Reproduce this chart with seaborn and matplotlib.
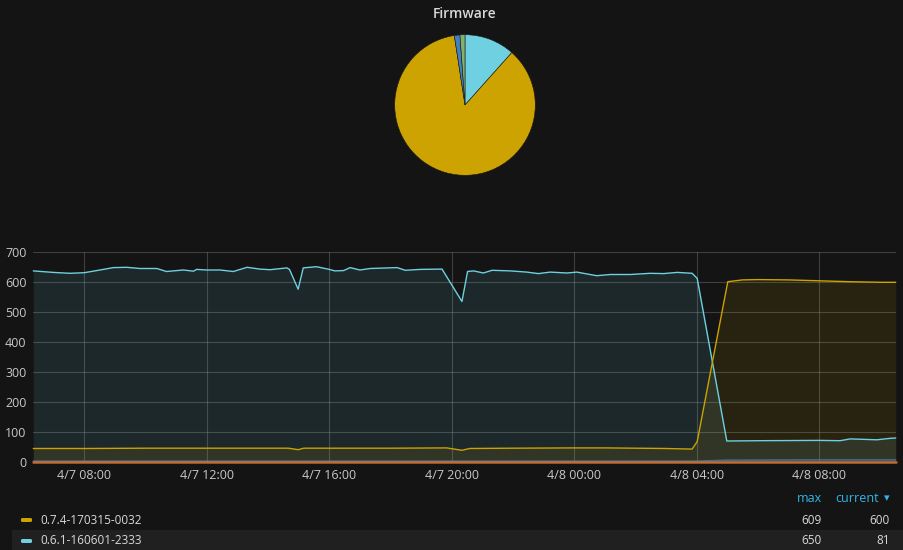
import pandas as pd
import numpy as np
import matplotlib
matplotlib.use('Agg')
import matplotlib.pyplot as plt
import matplotlib.dates as mdates
from matplotlib.patches import FancyBboxPatch, Rectangle
import seaborn as sns

# Series values (times on 2017-04-07 / 04-08)
cyan_times = ['04-07 06:20', '04-07 06:59', '04-07 07:32', '04-07 08:00', '04-07 08:24', '04-07 08:57',
              '04-07 09:23', '04-07 09:49', '04-07 10:22', '04-07 10:41', '04-07 11:14', '04-07 11:34',
              '04-07 11:40', '04-07 12:00', '04-07 12:26', '04-07 12:52', '04-07 13:19', '04-07 13:44',
              '04-07 14:04', '04-07 14:37', '04-07 14:42', '04-07 14:59', '04-07 15:09', '04-07 15:35',
              '04-07 16:00', '04-07 16:11', '04-07 16:28', '04-07 16:41', '04-07 17:00', '04-07 17:20',
              '04-07 18:13', '04-07 18:29', '04-07 18:58', '04-07 19:41', '04-07 20:20', '04-07 20:31',
              '04-07 20:43', '04-07 21:02', '04-07 21:19', '04-07 21:55', '04-07 22:27', '04-07 22:50',
              '04-07 23:13', '04-07 23:46', '04-08 00:05', '04-08 00:44', '04-08 01:11', '04-08 01:50',
              '04-08 02:29', '04-08 02:55', '04-08 03:22', '04-08 03:51', '04-08 04:01', '04-08 04:59',
              '04-08 06:05', '04-08 08:00', '04-08 08:41', '04-08 09:01', '04-08 09:53', '04-08 10:20',
              '04-08 10:30']
cyan_values = [638, 633, 630, 632, 639, 649,
               650, 646, 646, 636, 641, 637,
               643, 641, 641, 636, 650, 644,
               642, 648, 643, 577, 648, 652,
               643, 638, 639, 649, 641, 646,
               649, 640, 643, 644, 536, 636,
               638, 631, 640, 638, 634, 629,
               634, 631, 634, 622, 626, 626,
               630, 629, 633, 630, 613, 71,
               72, 73, 72, 78, 75, 80,
               81]

yellow_times = ['04-07 06:20', '04-07 08:00', '04-07 10:00', '04-07 12:00', '04-07 14:40', '04-07 14:59',
                '04-07 15:10', '04-07 18:00', '04-07 19:50', '04-07 20:20', '04-07 20:35', '04-07 22:00',
                '04-08 00:00', '04-08 01:00', '04-08 02:00', '04-08 03:00', '04-08 03:51', '04-08 04:01',
                '04-08 05:01', '04-08 05:30', '04-08 06:00', '04-08 07:00', '04-08 08:00', '04-08 09:00',
                '04-08 10:00', '04-08 10:30']
yellow_values = [46, 46, 47, 47, 47, 42,
                 47, 47, 48, 40, 46, 47,
                 48, 48, 47, 46, 44, 69,
                 602, 608, 609, 608, 605, 602,
                 600, 600]

blue_times = ['04-07 06:20', '04-08 04:00', '04-08 05:00', '04-08 08:00', '04-08 10:30']
blue_values = [4, 4, 7, 8, 8]

orange_times = ['04-07 06:20', '04-08 10:30']
orange_values = [1, 1]

pie_labels = ['0.6.1-160601-2333', '0.7.4-170315-0032', 'other-a', 'other-b']
pie_values = [81, 600, 9, 8]

legend_names = ['0.7.4-170315-0032', '0.6.1-160601-2333']
legend_max = [609, 650]
legend_current = [600, 81]

YELLOW = '#cca300'
CYAN = '#6ed0e0'
BLUE = '#447ebc'
GREEN = '#7eb26d'
ORANGE = '#e0752d'
BG = '#141414'
TXT = '#d8d9da'

sns.set_theme(style='dark')
plt.rcParams['font.family'] = ['Open Sans', 'DejaVu Sans']


def to_dt(ts):
    return pd.to_datetime(['2017-' + t for t in ts])


frames = []
for name, ts, vals in [('cyan', cyan_times, cyan_values), ('yellow', yellow_times, yellow_values),
                       ('blue', blue_times, blue_values), ('orange', orange_times, orange_values)]:
    frames.append(pd.DataFrame({'time': to_dt(ts), 'value': vals, 'series': name}))
df = pd.concat(frames, ignore_index=True)
palette = {'cyan': CYAN, 'yellow': YELLOW, 'blue': BLUE, 'orange': ORANGE}

fig = plt.figure(figsize=(9.04, 5.5), dpi=100, facecolor=BG)

# ---- pie ----
fig.text(465 / 904, 1 - 14 / 550, 'Firmware', color=TXT, fontsize=10, fontweight='semibold',
         ha='center', va='center')
pax = fig.add_axes([(465 - 71) / 904, 1 - (105 + 71) / 550, 142 / 904, 142 / 550])
pax.set_facecolor(BG)
pax.pie(pie_values, colors=[CYAN, YELLOW, BLUE, GREEN], startangle=90, counterclock=False,
        wedgeprops=dict(edgecolor='#1a1a1a', linewidth=0.4))
pax.set_xlim(-1.01, 1.01)
pax.set_ylim(-1.01, 1.01)
pax.set_aspect('equal')

# ---- time series ----
ax = fig.add_axes([33.3 / 904, 1 - 462.3 / 550, 862.4 / 904, 210 / 550])
ax.set_facecolor(BG)
for name in ['cyan', 'yellow', 'blue', 'orange']:
    sub = df[df['series'] == name]
    ax.fill_between(sub['time'], 0, sub['value'], color=palette[name], alpha=0.11, linewidth=0, zorder=1)
sns.lineplot(data=df, x='time', y='value', hue='series', palette=palette, ax=ax,
             linewidth=1.0, legend=False, zorder=3)
for ln in ax.lines:
    ln.set_clip_on(False)
    if ln.get_color() == ORANGE:
        ln.set_linewidth(1.8)
        ln.set_alpha(0.85)
    elif ln.get_color() == BLUE:
        ln.set_linewidth(1.1)
        ln.set_alpha(0.8)

ax.set_xlim(pd.Timestamp('2017-04-07 06:20'), pd.Timestamp('2017-04-08 10:30'))
ax.set_ylim(0, 700)
ax.set_yticks(range(0, 701, 100))
ax.xaxis.set_major_locator(mdates.HourLocator(byhour=[0, 4, 8, 12, 16, 20]))
ax.xaxis.set_major_formatter(plt.FuncFormatter(
    lambda v, p: (lambda d: f'{d.month}/{d.day} {d:%H:%M}')(mdates.num2date(v))))
ax.grid(True, color='#8a8a8a', alpha=0.38, linewidth=0.8)
ax.set_axisbelow(True)
for s in ax.spines.values():
    s.set_visible(False)
ax.tick_params(colors='#c8c8c8', labelsize=9, length=0, pad=5)
ax.set_xlabel('')
ax.set_ylabel('')

# ---- legend table ----
fig.text(822 / 904, 1 - 499 / 550, 'max', color='#33b5e5', fontsize=9, ha='right', va='center')
fig.text(879 / 904, 1 - 499 / 550, 'current', color='#33b5e5', fontsize=9, ha='right', va='center')
fig.text(887 / 904, 1 - 498 / 550, '\u25be', color='#33b5e5', fontsize=8, ha='center', va='center',
         family=['DejaVu Sans'])
fig.patches.append(Rectangle((12 / 904, 0), 892 / 904, 20 / 550, transform=fig.transFigure,
                             facecolor='#202020', edgecolor='none', zorder=0))
for i, (nm, mx, cur) in enumerate(zip(legend_names, legend_max, legend_current)):
    yc = 1 - (520 + 21 * i) / 550
    col = YELLOW if i == 0 else CYAN
    fig.patches.append(FancyBboxPatch((21 / 904, yc - 2 / 550), 11 / 904, 4 / 550,
                                      boxstyle='round,pad=0,rounding_size=0.002',
                                      transform=fig.transFigure, facecolor=col, edgecolor='none'))
    fig.text(40 / 904, yc, nm, color=TXT, fontsize=8.5, ha='left', va='center')
    fig.text(822 / 904, yc, str(mx), color=TXT, fontsize=8.5, ha='right', va='center')
    fig.text(890 / 904, yc, str(cur), color=TXT, fontsize=8.5, ha='right', va='center')

fig.savefig('out.png', dpi=100, facecolor=BG)
